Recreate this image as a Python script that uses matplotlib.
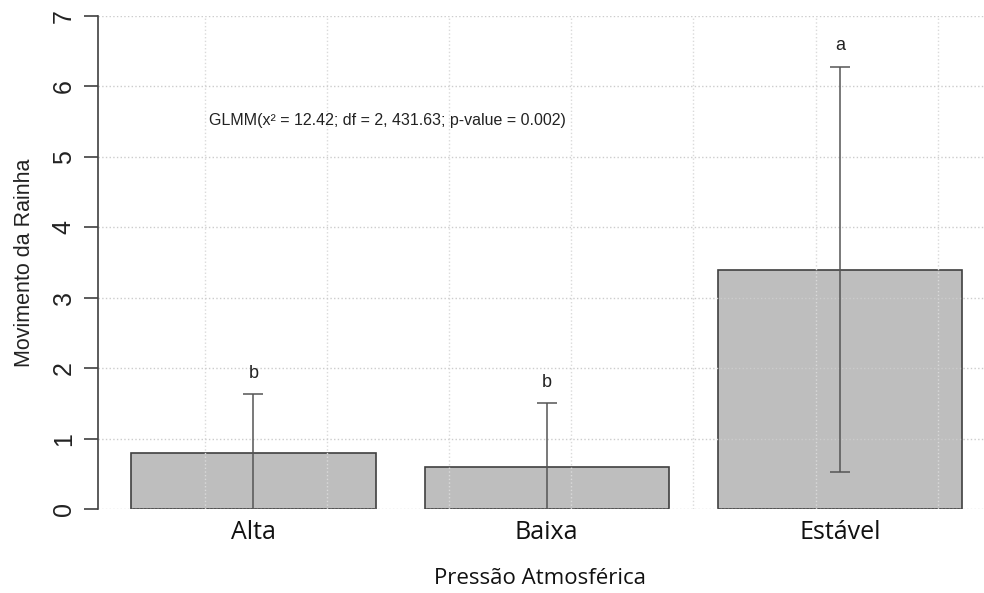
import matplotlib.pyplot as plt
import numpy as np

# data
categories = ['Alta', 'Baixa', 'Estável']
means = [0.8, 0.6, 3.4]
errors = [0.83, 0.9, 2.88]
letters = ['b', 'b', 'a']
yticks = [0, 1, 2, 3, 4, 5, 6, 7]
stats_text = 'GLMM(x² = 12.42; df = 2, 431.63; p-value = 0.002)'

# R barplot positions (width 1, space 0.2)
x = 0.7 + 1.2 * np.arange(len(categories))

fig = plt.figure(figsize=(9.84, 5.93), dpi=100)
ax = fig.add_axes([98 / 984, 84 / 593, 886 / 984, 493 / 593])

ax.bar(x, means, width=1.0, color='#bebebe', edgecolor='#404040', linewidth=1.2, zorder=1)

# dotted grid on top of bars, like R grid()
for gx in np.arange(0.5, 3.6, 0.5):
    ax.axvline(gx, color='#dadada', linestyle=':', linewidth=1, zorder=2)
for gy in yticks:
    ax.axhline(gy, color='#cccccc', linestyle=':', linewidth=1, zorder=2)

ax.errorbar(x, means, yerr=errors, fmt='none', ecolor='#555555', elinewidth=1.1,
            capsize=7.5, capthick=1.1, zorder=3)

for xi, m, e, lab in zip(x, means, errors, letters):
    ax.text(xi, m + e + 0.3, lab, ha='center', va='center', fontsize=13,
            family='Liberation Sans', color='#222222')

ax.text(0.52, 5.52, stats_text, ha='left', va='center', fontsize=11.5,
        family='Liberation Sans', color='#222222')

ax.set_xlim(0.064, 3.689)
ax.set_ylim(0, 7)

for s in ['top', 'right', 'bottom']:
    ax.spines[s].set_visible(False)
ax.spines['left'].set_color('#404040')
ax.spines['left'].set_linewidth(1.2)

ax.set_yticks(yticks)
ax.set_yticklabels([str(t) for t in yticks], rotation=90, va='center',
                   fontsize=18, family='Liberation Sans', color='#222222')
ax.tick_params(axis='y', length=10, width=1.2, color='#404040', pad=6)

ax.set_xticks(x)
ax.set_xticklabels(categories, fontsize=18, family='Open Sans', color='#111111')
ax.tick_params(axis='x', length=0, pad=8)

ax.set_ylabel('Movimento da Rainha', fontsize=15.5, family='Liberation Sans', color='#222222', labelpad=12)
fig.text(540 / 984, 1 - 578 / 593, 'Pressão Atmosférica', ha='center', va='center',
         fontsize=16, family='Open Sans', color='#111111')

fig.savefig('out.png', dpi=100, facecolor='white')
